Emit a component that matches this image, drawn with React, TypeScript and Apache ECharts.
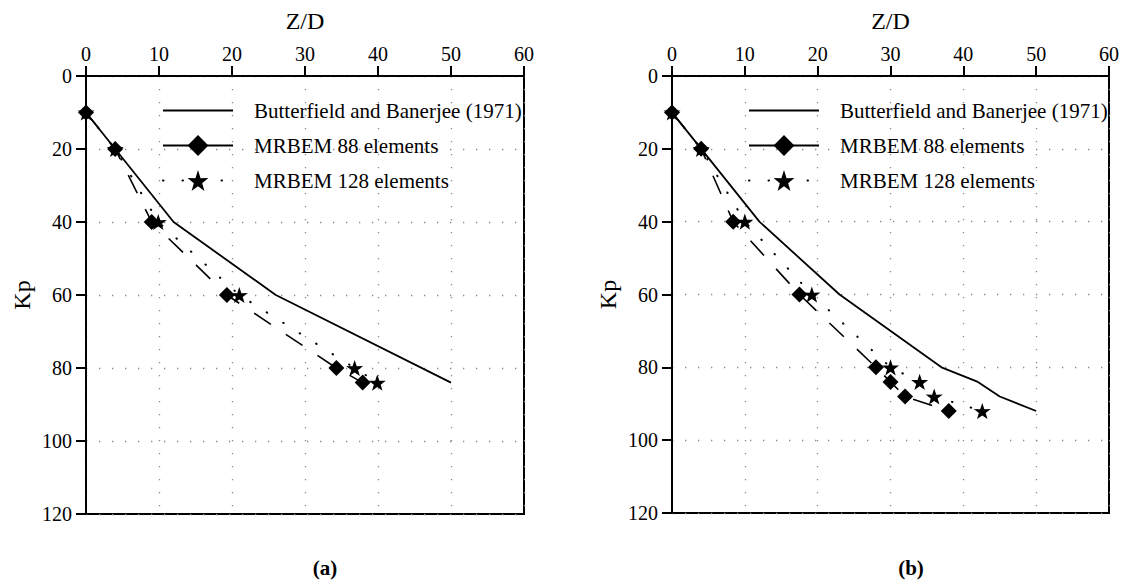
import React, { useEffect, useRef } from "react";
import * as echarts from "echarts";

const xTicks = [0, 10, 20, 30, 40, 50, 60];
const yTicks = [0, 20, 40, 60, 80, 100, 120];
const seriesNames = ["Butterfield and Banerjee (1971)", "MRBEM 88 elements", "MRBEM 128 elements"];
const panelLabels = ["(a)", "(b)"];

// Panel (a): [Z/D, Kp]
const butterA = [[0, 10], [12, 40], [26, 60], [50, 84]];
const mrbem88A = [[0, 10], [4, 20], [9, 40], [19.3, 60], [34.3, 80], [37.9, 84]];
const mrbem128A = [[0, 10], [4, 20], [9.9, 40], [21, 60], [36.8, 80], [39.9, 84]];

// Panel (b)
const butterB = [[0, 10], [12, 40], [23, 60], [37, 80], [42, 84], [45, 88], [50, 92]];
const mrbem88B = [[0, 10], [4, 20], [8.4, 40], [17.5, 60], [28, 80], [30, 84], [32, 88], [38, 92]];
const mrbem128B = [[0, 10], [4, 20], [10, 40], [19.2, 60], [30, 80], [34, 84], [36, 88], [42.6, 92]];

const FONT = "'Liberation Serif', 'Times New Roman', serif";
const STAR =
  "path://M50,0 L61.8,35.1 L97.6,34.5 L69.1,56.7 L79.4,90.5 L50,70 L20.6,90.5 L30.9,56.7 L2.4,34.5 L38.2,35.1 Z";

export default function App() {
  const ref = useRef<HTMLDivElement>(null);

  useEffect(() => {
    if (!ref.current) return;
    const chart = echarts.init(ref.current, undefined, { renderer: "svg" });

    const grids = [
      { left: 86, top: 76, width: 438, height: 438 },
      { left: 672, top: 76, width: 437, height: 437 },
    ];

    const xAxis = grids.map((_, i) => ({
      type: "value",
      gridIndex: i,
      position: "top",
      min: xTicks[0],
      max: xTicks[xTicks.length - 1],
      interval: 10,
      axisLine: { show: true, lineStyle: { color: "#000", width: 2 } },
      axisTick: { show: true, inside: false, length: 10, lineStyle: { color: "#000", width: 2 } },
      axisLabel: { color: "#000", fontSize: 20, fontFamily: FONT, margin: 12 },
      splitLine: { show: true, lineStyle: { color: "#888", width: 1.3, type: [1.3, 11.7] } },
    }));

    const yAxis = grids.map((_, i) => ({
      type: "value",
      gridIndex: i,
      inverse: true,
      min: yTicks[0],
      max: yTicks[yTicks.length - 1],
      interval: 20,
      axisLine: { show: true, lineStyle: { color: "#000", width: 2 } },
      axisTick: { show: true, inside: false, length: 10, lineStyle: { color: "#000", width: 2 } },
      axisLabel: { color: "#000", fontSize: 20, fontFamily: FONT, margin: 14 },
      splitLine: { show: true, lineStyle: { color: "#888", width: 1.3, type: [1.3, 11.7] } },
    }));

    const panels = [
      [butterA, mrbem88A, mrbem128A],
      [butterB, mrbem88B, mrbem128B],
    ];

    const series: any[] = [];
    panels.forEach((p, i) => {
      series.push({
        name: seriesNames[0],
        type: "line",
        xAxisIndex: i,
        yAxisIndex: i,
        data: p[0],
        symbol: "none",
        itemStyle: { color: "#000" },
        lineStyle: { color: "#000", width: 1.8 },
        z: 2,
      });
      series.push({
        name: seriesNames[2],
        type: "line",
        xAxisIndex: i,
        yAxisIndex: i,
        data: p[2],
        symbol: STAR,
        symbolSize: 17,
        symbolKeepAspect: true,
        itemStyle: { color: "#000" },
        lineStyle: { color: "#000", width: 2, type: [0.5, 19], cap: "round" },
        z: 3,
      });
      series.push({
        name: seriesNames[1],
        type: "line",
        xAxisIndex: i,
        yAxisIndex: i,
        data: p[1],
        symbol: "diamond",
        symbolSize: 16,
        itemStyle: { color: "#000" },
        lineStyle: { color: "#000", width: 1.6, type: [20, 18] },
        z: 4,
      });
    });

    const legendData = [
      { name: seriesNames[0], itemStyle: { opacity: 0 } },
      { name: seriesNames[1], lineStyle: { type: "solid" } },
      { name: seriesNames[2] },
    ];

    const legends = grids.map((g) => ({
      left: g.left + 71,
      top: 95,
      orient: "vertical",
      itemWidth: 70,
      itemHeight: 26,
      itemGap: 14,
      data: legendData,
      selectedMode: false,
      textStyle: { color: "#000", fontSize: 21, fontFamily: FONT, padding: [0, 0, 0, 16] },
    }));

    const graphic: any[] = [];
    grids.forEach((g, i) => {
      const cx = g.left + g.width / 2;
      graphic.push({
        type: "text",
        x: cx,
        y: 21,
        style: { text: "Z/D", fontSize: 24, fontFamily: FONT, fill: "#000", align: "center", verticalAlign: "middle" },
      });
      graphic.push({
        type: "text",
        x: g.left - 64,
        y: g.top + g.height / 2,
        rotation: Math.PI / 2,
        style: { text: "Kp", fontSize: 24, fontFamily: FONT, fill: "#000", align: "center", verticalAlign: "middle" },
      });
      graphic.push({
        type: "text",
        x: g.left + 239,
        y: 568,
        style: {
          text: panelLabels[i],
          fontSize: 21,
          fontWeight: "bold",
          fontFamily: FONT,
          fill: "#000",
          align: "center",
          verticalAlign: "middle",
        },
      });
    });

    chart.setOption({
      animation: false,
      backgroundColor: "#fff",
      grid: grids.map((g) => ({ ...g, show: true, borderColor: "#000", borderWidth: 2, backgroundColor: "transparent" })),
      xAxis,
      yAxis,
      legend: legends,
      series,
      graphic,
    });

    return () => chart.dispose();
  }, []);

  return <div ref={ref} style={{ position: "fixed", left: 0, top: 0, width: 1130, height: 585 }} />;
}
